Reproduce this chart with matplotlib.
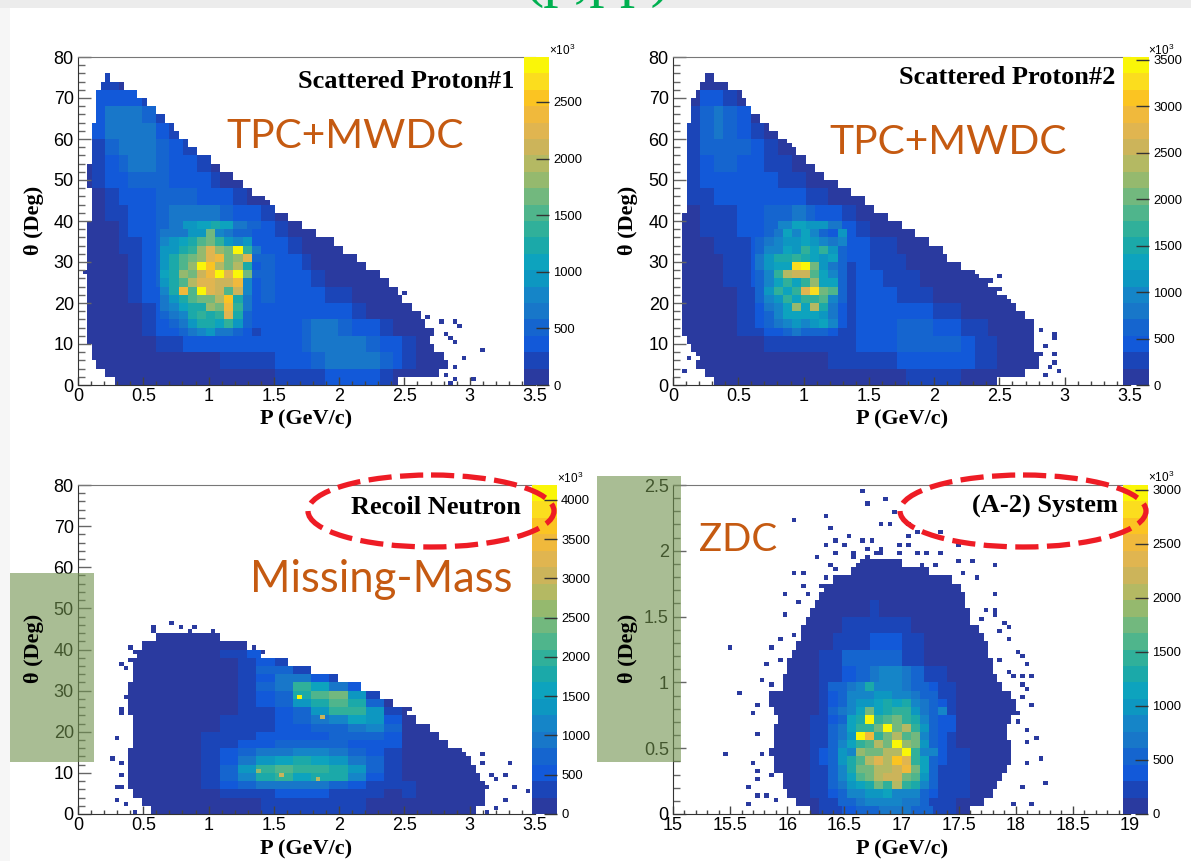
import numpy as np
import matplotlib
matplotlib.use('Agg')
import matplotlib.pyplot as plt
from matplotlib.colors import ListedColormap, BoundaryNorm
from matplotlib.patches import Ellipse, Rectangle

W, H = 1191, 861

# palette bands, bottom to top
palette = ['#2a3a9f', '#1b45b8', '#1259d9', '#1565cf', '#1877c9', '#1585c8', '#0d97c1',
           '#0da3be', '#1ba9a9', '#30b09a', '#4fb58c', '#72b87e', '#95b96e', '#b4b963',
           '#ccb45a', '#e0b550', '#f0b93c', '#fbc422', '#fbdd1e', '#faf608']

# counts in hundreds, rows from the bottom (4 deg each), columns 0.1 GeV/c each
proton1_table = [
    [1,1,1,1,1,1,1,1,1,1,1,1,1,1,1,2,2,2,2,3,4,4,3,2,1,1,1,1,1],
    [1,1,1,1,1,1,1,1,1,1,1,2,2,2,2,3,3,4,5,6,6,7,6,5,3,2,1,1,1],
    [1,1,1,1,1,1,2,2,3,3,3,3,3,3,3,4,4,5,6,7,7,6,5,4,3,2,1,1],
    [1,1,1,1,1,2,3,4,6,9,10,10,9,6,4,4,4,5,6,6,5,4,3,2,1,1,1,1],
    [1,1,1,1,1,2,3,5,9,14,16,17,15,8,4,4,4,4,4,4,3,2,1,1,1,1],
    [1,1,1,1,2,3,4,6,11,16,19,20,16,9,5,4,4,3,3,2,2,1,1,1,1],
    [1,1,1,1,2,3,5,7,13,19,23,23,17,9,5,4,3,3,2,1,1,1,1,1],
    [1,1,1,1,2,3,5,8,14,21,25,24,18,8,5,4,3,2,1,1,1,1],
    [1,1,1,2,2,3,5,8,12,18,20,20,15,8,4,3,2,1,1,1,1],
    [1,1,1,2,3,4,5,7,9,11,12,11,7,5,3,2,1,1],
    [1,1,2,2,3,4,5,6,7,7,7,5,4,3,2,1,1],
    [1,1,2,3,4,4,5,5,5,4,3,3,2,1,1],
    [1,2,3,4,5,5,5,4,3,3,2,1,1],
    [1,2,4,5,6,6,5,4,3,2,1],
    [1,2,5,6,7,6,5,4,2,1],
    [1,3,6,7,7,6,4,2],
    [1,3,6,7,6,5,2],
    [1,3,4,4,3,2],
    [1,2,2,1],
]
# edge of the filled area for each 2 deg row, from the bottom
proton1_low = [.28,.2,.15,.12,.1,.08,.08,.08,.08,.08,.08,.08,.08,.08,.08,.08,.08,.08,.08,.08,
               .1,.1,.1,.1,.08,.08,.08,.1,.1,.12,.12,.12,.13,.14,.14,.15,.18,.22,0,0]
proton1_high = [2.45,2.75,2.83,2.8,2.72,2.68,2.72,2.65,2.62,2.55,2.5,2.45,2.38,2.3,2.2,2.12,2.03,
                1.95,1.82,1.72,1.62,1.52,1.42,1.32,1.25,1.18,1.08,1.0,.92,.85,.78,.72,.65,.58,
                .52,.47,.35,.25,0,0]
proton1_stray_p = [1.17,1.2,1.38,1.45,1.65,1.75,2.09,2.14,2.26,2.5,2.44,2.28,2.68,2.78,2.88,2.91,
                   2.81,2.84,2.88,3.1,2.95,2.88,2.81,2.88,3.02,2.85,.05]
proton1_stray_t = [51.5,49.8,45.8,45,40,36,31,28.8,27,22.7,20.7,19.5,17,15.4,15.4,14.6,13,12,10.5,
                   8.9,6.5,4.9,2.7,2,1.2,1,27.1]
# closer reading of the busy part, 0.07 GeV/c x 2 deg, rows from 12 deg up
proton1_core = [
    [3,3,5,6,8,9,7,6,5,3,2],
    [4,5,7,10,13,12,11,14,9,5,3],
    [5,7,8,12,14,13,14,22,12,5,3],
    [6,8,11,12,13,18,17,24,14,6,3],
    [7,10,13,15,16,16,20,26,12,7,4],
    [8,12,24,15,28,22,21,15,21,8,3],
    [9,13,15,19,22,23,21,21,24,8,4],
    [11,12,18,17,21,24,28,23,28,17,5],
    [10,13,15,18,28,25,20,16,20,12,4],
    [10,12,15,17,18,22,24,17,18,22,5],
    [9,10,12,14,18,22,18,16,28,14,6],
    [8,9,11,13,15,16,14,9,8,9,4],
    [6,7,7,9,10,16,8,6,5,5,4],
]

proton2_table = [
    [1,1,1,1,1,1,1,1,1,1,1,1,1,1,1,1,1,1,2,2,2,2,1,1,1,1,1,1],
    [1,1,1,1,1,1,1,1,1,1,1,1,2,2,2,3,3,4,4,5,5,5,4,3,2,1,1,1,1],
    [1,1,1,1,1,1,1,2,2,3,3,3,3,3,4,4,5,6,7,7,7,6,5,3,2,1,1,1],
    [1,1,1,1,1,2,2,3,5,7,8,8,7,5,4,4,5,6,7,7,5,4,3,2,1,1,1],
    [1,1,1,1,1,2,3,4,8,12,15,14,10,6,4,4,5,5,5,4,3,2,1,1,1],
    [1,1,1,1,1,2,3,6,11,15,18,15,10,6,5,4,4,3,3,2,1,1,1,1],
    [1,1,1,1,2,3,4,7,13,18,22,17,11,7,5,4,3,2,2,1,1,1,1],
    [1,1,1,1,2,3,5,7,13,20,26,18,12,7,5,3,2,2,1,1,1,1],
    [1,1,1,2,2,3,5,7,12,16,18,15,11,6,4,2,2,1,1,1,1],
    [1,1,2,2,3,4,5,6,9,13,12,11,8,5,3,1,1,1],
    [1,1,2,3,3,4,5,6,7,8,7,5,4,2,1,1,1],
    [1,2,3,4,4,5,5,5,5,4,3,2,1,1,1],
    [1,2,4,5,5,5,5,4,3,2,1,1,1],
    [1,3,5,6,6,5,4,3,2,1,1],
    [1,3,6,7,7,6,4,3,1,1],
    [1,3,6,8,7,5,3,1],
    [1,2,6,8,6,4,1,1],
    [1,1,4,4,3,1],
    [1,1,1,1],
]
proton2_low = [.3,.25,.18,.2,.15,.1,.08,.08,.08,.08,.08,.08,.08,.08,.08,.08,.08,.08,.08,.08,
               .08,.1,.1,.1,.1,.1,.1,.1,.12,.12,.12,.12,.14,.15,.15,.18,.2,.25,0,0]
proton2_high = [2.5,2.7,2.8,2.8,2.78,2.75,2.78,2.75,2.7,2.62,2.55,2.5,2.42,2.3,2.22,2.1,2.05,1.95,
                1.85,1.75,1.64,1.55,1.47,1.38,1.25,1.17,1.08,1.03,.95,.87,.8,.74,.65,.6,.55,.52,
                .42,.3,0,0]
proton2_stray_p = [.9,1.06,1.38,1.44,1.52,1.63,1.71,1.92,2.06,2.2,2.33,2.43,2.5,2.5,2.4,2.57,2.75,
                   2.82,2.92,2.92,2.85,2.82,2.92,2.92,2.89,2.96,2.85,.08,.13,.27,.29,.18,.36]
proton2_stray_t = [58.5,54,45,44.6,42.5,41,38.5,32.8,32.4,28.8,26.7,25.9,26.7,23.5,21,21,15.4,13.8,
                   12.6,11.3,10,7.3,7.3,5.7,4.9,3.2,2.4,4,6.5,7.3,6.5,7.3,2.4]
proton2_core = [
    [3,4,5,6,8,7,7,6,5,3,2],
    [4,6,8,9,11,10,12,14,9,4,2],
    [5,7,10,14,13,13,13,11,8,5,3],
    [5,8,9,13,22,14,24,15,8,5,3],
    [6,9,11,16,14,17,16,18,10,6,3],
    [7,11,17,14,17,28,33,20,18,7,3],
    [7,10,14,17,14,16,22,13,13,7,3],
    [7,10,16,24,26,25,18,13,10,6,3],
    [8,11,14,13,33,34,20,11,8,6,3],
    [8,11,15,15,16,15,14,12,14,7,4],
    [7,9,10,14,12,16,13,17,11,7,4],
    [6,8,10,12,11,14,12,9,8,10,4],
    [5,6,8,13,10,14,9,6,5,12,4],
]

neutron_table = [
    [0,0,0,0,1,1,1,1,1,1,1,1,1,2,3,3,3,3,3,3,3,3,2,2,2,1,1,1,1,1,1,1],
    [0,0,0,0,1,1,1,1,1,1,2,4,6,8,10,11,11,10,9,9,8,8,7,5,4,3,2,1,1,1,1,1],
    [0,0,0,0,1,1,1,1,1,2,3,5,10,16,20,21,20,18,17,15,13,10,8,6,4,2,1,1,1,1,1,1],
    [0,0,0,0,1,1,1,1,1,2,3,4,7,10,14,16,15,13,12,10,8,7,5,3,2,1,1,1,1,1],
    [0,0,0,0,1,1,1,1,1,1,3,4,5,6,7,8,8,8,8,8,6,5,3,2,1,1,1,1],
    [0,0,0,0,1,1,1,1,1,1,2,3,4,5,6,7,8,10,11,11,9,7,5,3,1,1],
    [0,0,0,0,1,1,1,1,1,1,1,3,4,6,7,9,12,19,24,22,17,13,8,4,1],
    [0,0,0,0,1,1,1,1,1,1,1,1,3,7,10,13,23,27,25,19,12,2],
    [0,0,0,0,1,1,1,1,1,1,1,1,5,8,11,12,13,8,3],
    [0,0,0,0,1,1,1,1,1,1,1,3,4,5,4,2],
    [0,0,0,0,0,1,1,1,1,1,1,1,1],
]
neutron_low = [.55,.5,.42,.4,.38,.38,.38,.4,.42,.42,.42,.42,.4,.38,.4,.4,.42,.42,.42,.45,.5,.58,0,0,
               0,0,0,0,0,0,0,0,0,0,0,0,0,0,0,0]
neutron_high = [3.05,3.1,3.12,3.1,3.08,3.05,3.0,2.95,2.85,2.78,2.68,2.6,2.52,2.42,2.3,2.18,1.98,1.78,
                1.6,1.4,1.3,1.08,0,0,0,0,0,0,0,0,0,0,0,0,0,0,0,0,0,0]
neutron_stray_p = [.72,.58,.58,.79,.89,.86,1.02,1.24,1.35,1.42,.41,.5,.44,.4,.33,.37,1.87,2.15,2.53,
                   2.67,2.81,2.85,2.96,3.09,3.31,3.09,3.03,3.16,3.26,3.2,3.34,3.44,3.27,3.2,3.12,
                   3.13,3.09,3.1,3.06,.29,.31,.34,.54,.29,.26,.34,.32,.34,.34,.37,.38,.58,.44]
neutron_stray_t = [46.8,46,45,46,46,44.3,44.3,41.9,40.3,39.6,41,41.9,39.9,38,36.5,35.7,33,30,26,21.2,
                   18,15,15,14.7,12.5,12.5,12,10,9.2,8.7,6.8,6,3.8,1.4,.3,6.6,5.4,3.8,2.6,3.6,6.8,
                   6.8,6.6,18.8,14,12.5,9.5,24.5,26,28.5,2.2,3.6,.3]
# 0.14 GeV/c x 2 deg, rows from 4 deg up
neutron_core = [
    [2,3,3,4,5,5,5,4,3,3,2],
    [3,5,8,9,10,10,9,8,6,4,3],
    [3,7,12,17,20,16,18,17,12,6,3],
    [4,7,14,20,21,20,19,18,13,8,4],
    [4,6,10,13,16,17,15,13,10,7,4],
    [4,5,7,9,10,11,11,9,7,5,4],
    [3,4,5,6,7,8,8,7,6,5,5],
    [3,4,4,5,6,6,6,7,7,8,5],
    [2,3,4,4,5,6,7,8,10,11,7],
    [2,3,4,4,5,7,9,12,16,13,6],
    [1,2,3,4,6,8,13,20,20,13,4],
    [1,2,3,5,8,13,18,23,18,7,2],
    [1,1,4,6,8,17,22,25,13,3,1],
    [1,1,4,7,9,20,16,9,5,2,1],
    [1,1,3,6,9,9,5,3,1,1,1],
    [1,1,4,7,8,4,2,1,1,1,1],
    [1,1,3,5,3,1,1,1,1,1,1],
]
neutron_hot = [(1.7,28.4,4150),(1.87,23.7,3000),(1.55,10,3000),(1.85,8.3,2800),(1.4,10.3,2700)]

# rows 0.125 deg each, columns 0.1 GeV/c each from 15 GeV/c
system_table = [
    [0]*10 + [1,1,1,2,3,4,6,6,7,7,7,5,5,3,2,1,1,1],
    [0]*10 + [1,1,2,3,5,7,10,11,12,13,12,11,9,6,4,2,1,1],
    [0]*10 + [1,1,2,3,6,9,13,15,16,17,16,14,10,6,3,2,1,1],
    [0]*10 + [1,1,2,4,6,9,14,19,21,21,19,14,9,5,3,2,1,1],
    [0]*10 + [1,1,2,3,6,9,14,20,22,24,21,15,9,5,3,1,1,1],
    [0]*10 + [1,1,2,3,5,8,13,18,20,20,17,13,7,4,2,1,1,1],
    [0]*10 + [1,1,1,2,4,6,10,14,17,16,14,10,6,3,2,1,1,1],
    [0]*10 + [1,1,1,2,3,5,7,10,11,11,9,7,4,2,1,1,1,1],
    [0]*10 + [1,1,1,2,3,4,6,7,8,8,7,5,3,2,1,1,1,1],
    [0]*10 + [1,1,1,2,3,5,6,6,5,5,3,2,1,1,1,1,1],
    [0]*10 + [1,1,1,1,2,3,3,4,4,4,3,2,1,1,1,1,1],
    [0]*10 + [1,1,1,1,1,2,2,2,3,2,2,1,1,1,1,1],
    [0]*10 + [1,1,1,1,1,1,1,2,1,1,1,1,1,1,1,1],
    [0]*10 + [1,1,1,1,1,1,1,1,1,1,1,1,1,1,1],
    [0]*10 + [1,1,1,1,1,1,1,1,1,1,1,1,1],
]
# 0.0625 deg rows
system_low = [16.2,16.1,16.0,15.98,15.95,15.9,15.88,15.85,15.88,15.9,15.88,15.92,15.9,15.85,15.85,15.95,
              15.97,16.0,16.02,16.04,16.08,16.12,16.12,16.15,16.2,16.25,16.3,16.32,16.4,16.55,16.65,
              0,0,0,0,0,0,0,0,0]
system_high = [17.62,17.72,17.8,17.85,17.9,17.93,17.95,17.95,17.95,17.93,17.93,17.95,18.0,18.0,17.95,17.88,
               17.85,17.82,17.8,17.78,17.76,17.72,17.68,17.62,17.6,17.58,17.55,17.52,17.45,17.25,17.0,
               0,0,0,0,0,0,0,0,0]
system_stray_p = [16.66,16.7,16.86,16.96,16.06,16.33,16.37,16.82,16.9,17.05,17.05,17.14,17.34,16.54,16.41,
                  16.66,16.74,16.99,17.07,16.34,16.51,16.69,16.81,17.5,16.44,16.57,16.77,16.97,17.14,16.27,
                  16.57,16.7,16.84,17.0,17.22,17.34,17.5,17.62,17.82,16.37,16.44,16.64,16.84,17.2,17.3,
                  16.06,16.14,16.34,17.55,17.65,16.14,16.3,17.82,15.97,16.17,16.29,16.09,17.82,15.97,17.74,
                  17.82,17.7,17.9,17.94,17.86,17.94,17.7,15.96,16.06,15.49,15.86,15.94,18.02,18.05,18.1,
                  15.81,17.86,17.93,17.97,18.05,18.14,15.77,15.86,18.07,18.1,15.57,18.05,18.14,15.76,15.69,
                  18.02,18.02,18.1,18.18,15.74,18.09,15.46,15.77,18.22,15.69,18.09,15.74,15.86,15.74,18.25,
                  15.66,18.05,15.74,15.82,15.91,15.66,17.97,18.14]
system_stray_y = [2.46,2.37,2.39,2.29,2.24,2.26,2.16,2.19,2.19,2.19,2.12,2.14,2.14,2.11,2.09,2.09,2.09,2.06,
                  2.06,2.04,2.04,2.03,2.03,2.04,2.0,2.0,2.0,2.0,2.0,1.94,1.95,1.95,1.97,1.97,1.97,1.98,1.93,
                  1.91,1.89,1.88,1.86,1.9,1.9,1.89,1.9,1.84,1.84,1.81,1.84,1.79,1.74,1.73,1.68,1.66,1.66,
                  1.63,1.6,1.56,1.51,1.54,1.51,1.49,1.44,1.41,1.39,1.33,1.35,1.33,1.36,1.28,1.27,1.18,1.23,
                  1.19,1.14,1.14,1.17,1.09,1.04,1.04,1.04,1.01,.99,.99,.94,.91,.89,.84,.84,.76,.76,.69,.64,
                  .59,.61,.54,.46,.44,.42,.39,.38,.34,.31,.26,.24,.21,.19,.14,.14,.11,.07,.09,.07]
# 0.08 GeV/c x 0.0625 deg, rows from 0.0625 deg up
system_core = [
    [3,5,6,7,8,8,8,8,7,7,5,3,2,2],
    [4,6,8,9,10,10,11,9,9,8,6,4,3,2],
    [5,7,10,12,13,17,15,21,14,13,8,5,3,2],
    [6,9,12,16,17,20,22,22,18,16,10,5,3,3],
    [6,9,13,17,18,21,20,22,25,17,11,6,3,3],
    [5,10,13,16,20,23,20,27,24,15,11,6,4,3],
    [5,10,9,19,18,17,20,21,30,14,9,8,4,3],
    [6,8,11,15,16,20,18,30,19,18,10,6,4,3],
    [5,7,10,30,25,15,18,20,16,17,9,6,4,3],
    [5,7,12,14,15,18,30,18,21,14,10,6,4,4],
    [4,6,11,13,30,15,16,17,15,13,9,6,4,4],
    [5,7,9,12,17,12,13,15,15,10,7,5,9,3],
    [4,6,8,10,10,12,13,12,13,9,7,5,4,3],
    [4,6,8,9,9,10,10,9,8,7,6,5,3,3],
    [5,5,7,8,13,9,9,8,7,6,5,4,3,3],
]

theta_ticks = [0, 10, 20, 30, 40, 50, 60, 70, 80]
p_ticks = [0, .5, 1, 1.5, 2, 2.5, 3, 3.5]
p_tick_labels = ['0', '0.5', '1', '1.5', '2', '2.5', '3', '3.5']
zdc_p_ticks = [15, 15.5, 16, 16.5, 17, 17.5, 18, 18.5, 19]
zdc_p_labels = ['15', '15.5', '16', '16.5', '17', '17.5', '18', '18.5', '19']
zdc_y_ticks = [0, .5, 1, 1.5, 2, 2.5]
zdc_y_labels = ['0', '0.5', '1', '1.5', '2', '2.5']


def fill_bins(table, low, high, xlim, ylim, col_w, row_h):
    """Put the table values in the 100 x 80 histogram bins, inside the edges only."""
    x_edges = np.linspace(xlim[0], xlim[1], 101)
    y_edges = np.linspace(ylim[0], ylim[1], 81)
    counts = np.zeros((80, 100))
    for j in range(80):
        yc = (y_edges[j] + y_edges[j + 1]) / 2
        r = int((yc - ylim[0]) / (ylim[1] - ylim[0]) * len(low))
        for i in range(100):
            xc = (x_edges[i] + x_edges[i + 1]) / 2
            if not low[r] <= xc < high[r]:
                continue
            t = int((yc - ylim[0]) / row_h)
            c = int((xc - xlim[0]) / col_w)
            v = 1
            if t < len(table) and c < len(table[t]):
                v = max(table[t][c], 1)
            counts[j, i] = v * 100
    return x_edges, y_edges, counts


def add_core(counts, x_edges, y_edges, core, x0, y0, dx, dy):
    """Overwrite the bins under the closer reading."""
    for j in range(80):
        yc = (y_edges[j] + y_edges[j + 1]) / 2
        t = int(np.floor((yc - y0) / dy))
        if t < 0 or t >= len(core):
            continue
        for i in range(100):
            xc = (x_edges[i] + x_edges[i + 1]) / 2
            c = int(np.floor((xc - x0) / dx))
            if 0 <= c < len(core[t]) and counts[j, i] > 0:
                counts[j, i] = core[t][c] * 100


def add_single_bins(counts, x_edges, y_edges, xs, ys, value=100):
    for x, y in zip(xs, ys):
        i = np.searchsorted(x_edges, x) - 1
        j = np.searchsorted(y_edges, y) - 1
        if counts[j, i] == 0 or value > 100:
            counts[j, i] = value


def draw_panel(box, pal_box, xlim, ylim, cells, core, stray, hot, vmax, zticks,
               xticks, xlabels, yticks, ylabels, xminor, yminor):
    table, low, high, col_w, row_h = cells
    x_edges, y_edges, counts = fill_bins(table, low, high, xlim, ylim, col_w, row_h)
    add_core(counts, x_edges, y_edges, *core)
    add_single_bins(counts, x_edges, y_edges, stray[0], stray[1])
    for x, y, v in hot:
        add_single_bins(counts, x_edges, y_edges, [x], [y], v)

    l, t, r, b = box
    ax = fig.add_axes([l / W, 1 - b / H, (r - l) / W, (b - t) / H], zorder=2)
    cmap = ListedColormap(palette)
    norm = BoundaryNorm(np.linspace(0, vmax, 21), 20)
    mesh = ax.pcolormesh(x_edges, y_edges, np.ma.masked_equal(counts, 0), cmap=cmap, norm=norm)
    ax.set_xlim(xlim)
    ax.set_ylim(ylim)
    ax.set_xticks(xticks, xlabels)
    ax.set_yticks(yticks, ylabels)
    ax.set_xticks(xminor, minor=True)
    ax.set_yticks(yminor, minor=True)
    ax.tick_params(axis='x', which='major', direction='in', length=6, width=1, color='#444444',
                   labelsize=13, pad=2, top=False)
    ax.tick_params(axis='x', which='minor', direction='in', length=3, width=1, color='#444444')
    ax.tick_params(axis='y', which='major', direction='in', length=9.5, width=1, color='#666666',
                   labelsize=13, pad=3)
    ax.tick_params(axis='y', which='minor', direction='in', length=4.7, width=1, color='#666666')
    ax.spines['right'].set_visible(False)
    ax.spines['top'].set_color('#777777')
    ax.spines['left'].set_color('#333333')
    ax.spines['bottom'].set_color('#333333')

    pl, pr = pal_box
    cax = fig.add_axes([pl / W, 1 - b / H, (pr - pl) / W, (b - t) / H], zorder=3)
    cb = fig.colorbar(mesh, cax=cax, spacing='proportional')
    cb.set_ticks(zticks)
    cb.outline.set_visible(False)
    cax.minorticks_off()
    cax.tick_params(axis='y', direction='in', length=9.5, width=1, color='#333333',
                    labelsize=9.4, pad=3)
    return ax


fig = plt.figure(figsize=(W / 100, H / 100), dpi=100, facecolor='#f6f6f6')
plt.rcParams['mathtext.default'] = 'regular'
plt.rcParams['font.family'] = ['Liberation Sans', 'DejaVu Sans']

# page behind the slide, the heading is cut by the slide edge
page = fig.add_axes([0, 0, 1, 1], zorder=0)
page.set_xlim(0, W)
page.set_ylim(H, 0)
page.axis('off')
page.add_patch(Rectangle((0, 0), W, 8, color='#ececec', lw=0))
page.text(597, -5, '(p,pp)', color='#00b050', fontsize=44, family='Liberation Serif',
          ha='center', va='baseline', zorder=1)
page.add_patch(Rectangle((10, 8), W - 10, H - 8, color='white', lw=0, zorder=2))

minor_p = np.arange(0, 3.51, .1)
minor_t = np.arange(0, 80.1, 2)
theta_labels = [str(v) for v in theta_ticks]

draw_panel((78, 57, 535, 385), (524, 549), (0, 3.5), (0, 80),
           (proton1_table, proton1_low, proton1_high, .1, 4),
           (proton1_core, .63, 12, .07, 2),
           (proton1_stray_p, proton1_stray_t), [], 2897, [0, 500, 1000, 1500, 2000, 2500],
           p_ticks, p_tick_labels, theta_ticks, theta_labels, minor_p, minor_t)
draw_panel((673, 57, 1130, 385), (1123, 1149), (0, 3.5), (0, 80),
           (proton2_table, proton2_low, proton2_high, .1, 4),
           (proton2_core, .63, 12, .07, 2),
           (proton2_stray_p, proton2_stray_t), [], 3530,
           [0, 500, 1000, 1500, 2000, 2500, 3000, 3500],
           p_ticks, p_tick_labels, theta_ticks, theta_labels, minor_p, minor_t)
draw_panel((78, 485, 535, 814), (532, 557), (0, 3.5), (0, 80),
           (neutron_table, neutron_low, neutron_high, .1, 4),
           (neutron_core, .93, 4, .14, 2),
           (neutron_stray_p, neutron_stray_t), neutron_hot, 4190,
           [0, 500, 1000, 1500, 2000, 2500, 3000, 3500, 4000],
           p_ticks, p_tick_labels, theta_ticks, theta_labels, minor_p, minor_t)
draw_panel((673, 485, 1130, 814), (1123, 1148), (15, 19), (0, 2.5),
           (system_table, system_low, system_high, .1, .125),
           (system_core, 16.37, .0625, .08, .0625),
           (system_stray_p, system_stray_y), [], 3046, [0, 500, 1000, 1500, 2000, 2500, 3000],
           zdc_p_ticks, zdc_p_labels, zdc_y_ticks, zdc_y_labels,
           np.arange(15, 19.01, .1), np.arange(0, 2.51, .1))

# everything that is placed by hand, in picture pixels
top = fig.add_axes([0, 0, 1, 1], zorder=6)
top.set_xlim(0, W)
top.set_ylim(H, 0)
top.axis('off')

serif = dict(family='Liberation Serif', weight='bold', color='black')
for x, y, s in [(298, 81, 'Scattered Proton#1'), (899, 77, 'Scattered Proton#2'),
                (351, 508, 'Recoil Neutron'), (972, 506, '(A-2) System')]:
    top.text(x, y, s, fontsize=19, ha='left', va='center', **serif)
for x, y in [(306, 419), (902, 419), (306, 849), (902, 849)]:
    top.text(x, y, 'P (GeV/c)', fontsize=16, ha='center', va='center', **serif)
for x, y in [(34, 220), (628, 220), (34, 648), (628, 648)]:
    top.text(x, y, 'θ (Deg)', fontsize=16, ha='center', va='center', rotation=90, **serif)
for x, y in [(549, 50), (1148, 50), (557, 478), (1148, 477)]:
    top.text(x, y, '×$10^3$', fontsize=8.5, ha='left', va='center')

orange = '#c55a11'
for x, y, s, size in [(226, 136, 'TPC+MWDC', 29.3), (829, 143, 'TPC+MWDC', 29.3),
                      (250, 579, 'Missing-Mass', 31.4), (699, 540, 'ZDC', 27.7)]:
    top.text(x, y, s, color=orange, fontsize=size, family='Lato', ha='left', va='center')

top.add_patch(Rectangle((10, 573), 84, 189, color='#70914d', alpha=.6, lw=0))
top.add_patch(Rectangle((597, 476), 84, 286, color='#70914d', alpha=.6, lw=0))

for cx in [431, 1023]:
    top.add_patch(Ellipse((cx, 511), 246, 72, fill=False, edgecolor='#ee1c25', lw=3.8,
                          ls=(0, (4.4, 1.6))))

fig.savefig('out.png', dpi=100)
